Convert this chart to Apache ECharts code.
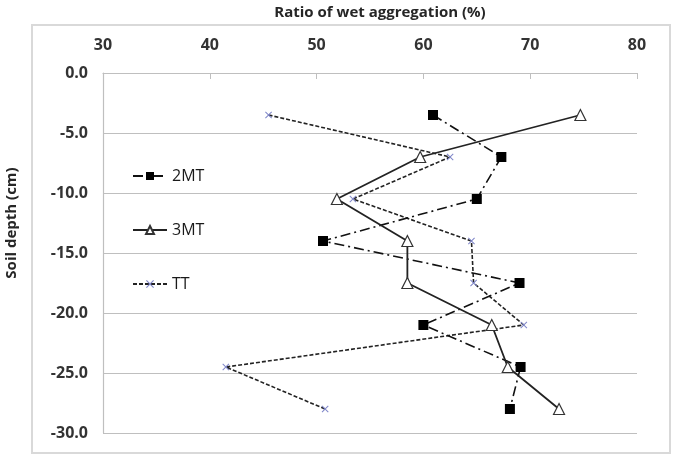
<!DOCTYPE html>
<html>
<head>
<meta charset="utf-8">
<script src="https://cdn.jsdelivr.net/npm/echarts@6/dist/echarts.min.js"></script>
<style>
html,body{margin:0;padding:0;background:#fff;}
#chart{width:677px;height:456px;}
</style>
</head>
<body>
<div id="chart"></div>
<script>
var depths = [-3.5, -7, -10.5, -14, -17.5, -21, -24.5, -28];
var values2MT = [60.9, 67.3, 65.0, 50.6, 69.0, 60.0, 69.1, 68.1];
var values3MT = [74.7, 59.7, 51.9, 58.5, 58.5, 66.4, 67.9, 72.7];
var valuesTT = [45.5, 62.5, 53.4, 64.5, 64.7, 69.4, 41.5, 50.8];
var seriesNames = ['2MT', '3MT', 'TT'];
var xTitle = 'Ratio of wet aggregation (%)';
var yTitle = 'Soil depth (cm)';

function pairs(vals) {
  return vals.map(function (v, i) { return [v, depths[i]]; });
}

var crossPath = 'path://M0,1L1,0L5,4L9,0L10,1L6,5L10,9L9,10L5,6L1,10L0,9L4,5Z';

var chart = echarts.init(document.getElementById('chart'));
chart.setOption({
  backgroundColor: '#ffffff',
  animation: false,
  grid: { left: 103, right: 40, top: 73, bottom: 23, containLabel: false },
  graphic: [
    { type: 'rect', shape: { x: 32, y: 25, width: 638, height: 428 },
      style: { fill: 'none', stroke: '#d9d9d9', lineWidth: 2 }, z: -10 },
    { type: 'text', x: 380, y: 13,
      style: { text: xTitle, fontSize: 15, fontWeight: 'bold', fill: '#262626',
               fontFamily: 'Open Sans', textAlign: 'center', textVerticalAlign: 'middle' } },
    { type: 'text', x: 12, y: 223, rotation: Math.PI / 2,
      style: { text: yTitle, fontSize: 15, fontWeight: 'bold', fill: '#262626',
               fontFamily: 'Open Sans', textAlign: 'center', textVerticalAlign: 'middle' } }
  ],
  legend: {
    orient: 'vertical', left: 127, top: 163, itemGap: 38,
    itemWidth: 34, itemHeight: 10,
    data: seriesNames,
    textStyle: { fontSize: 16, color: '#1a1a1a', fontFamily: 'Open Sans', lineHeight: 16 }
  },
  xAxis: {
    type: 'value', position: 'top', min: 30, max: 80, interval: 10,
    axisLine: { show: true, lineStyle: { color: '#bfbfbf', width: 1.2 } },
    axisTick: { show: true, inside: true, length: 6, lineStyle: { color: '#bfbfbf' } },
    splitLine: { show: false },
    axisLabel: { margin: 20, fontSize: 16, fontWeight: 'bold', color: '#333', fontFamily: 'Open Sans' }
  },
  yAxis: {
    type: 'value', min: -30, max: 0, interval: 5,
    axisLine: { show: true, lineStyle: { color: '#bfbfbf', width: 1.2 } },
    axisTick: { show: false },
    splitLine: { show: true, lineStyle: { color: '#bfbfbf', width: 1.2 } },
    axisLabel: { margin: 15, fontSize: 16, fontWeight: 'bold', color: '#333', fontFamily: 'Open Sans',
                 formatter: function (v) { return v.toFixed(1); } }
  },
  series: [
    { name: seriesNames[0], type: 'line', data: pairs(values2MT),
      symbol: 'rect', symbolSize: 10,
      itemStyle: { color: '#000' },
      lineStyle: { color: '#111', width: 1.6, type: [10, 4, 2, 4] }, z: 3 },
    { name: seriesNames[1], type: 'line', data: pairs(values3MT),
      symbol: 'triangle', symbolSize: 11,
      itemStyle: { color: '#fff', borderColor: '#333', borderWidth: 1.2 },
      lineStyle: { color: '#222', width: 1.8, type: 'solid' }, z: 4 },
    { name: seriesNames[2], type: 'line', data: pairs(valuesTT),
      symbol: crossPath, symbolSize: 7,
      itemStyle: { color: '#7f86c9' },
      lineStyle: { color: '#222', width: 1.6, type: [4, 2] }, z: 2 }
  ]
});
</script>
</body>
</html>
